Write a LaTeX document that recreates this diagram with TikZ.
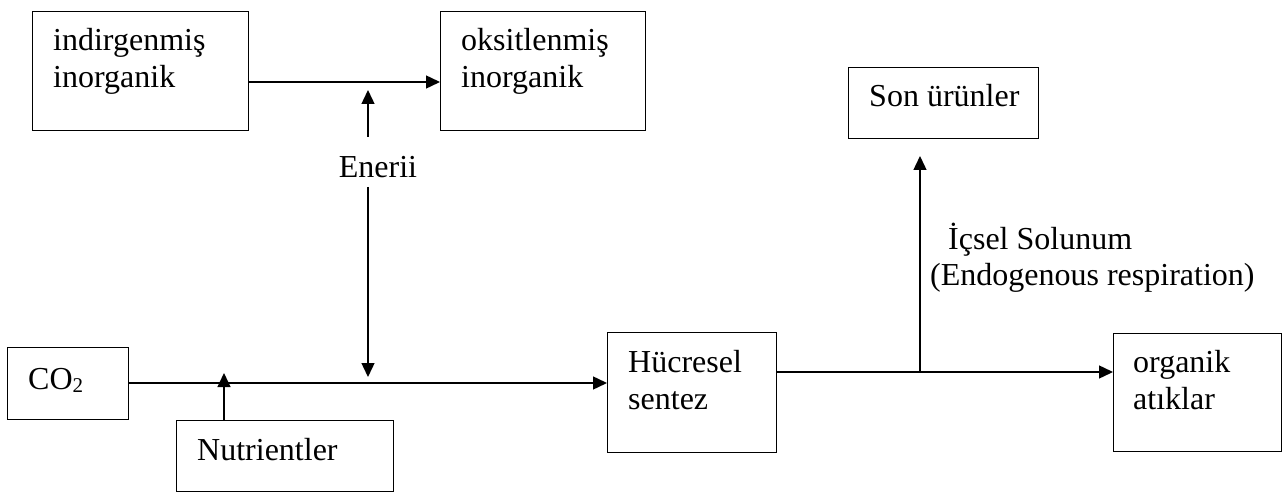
\documentclass[tikz,border=0pt]{standalone}
\usepackage{fontspec}
\setmainfont{Liberation Serif}
\usetikzlibrary{arrows.meta}
\begin{document}
\begin{tikzpicture}[x=1pt,y=-1pt,
  box/.style={draw, line width=1.4pt, inner sep=0pt, anchor=north west},
  txt/.style={inner sep=0pt, anchor=base west, font=\fontsize{32}{37}\selectfont},
  arr/.style={line width=1.4pt, -{Triangle[length=14pt,width=13pt]}},
  ln/.style={line width=1.4pt}]
\useasboundingbox (0,0) rectangle (1283,492);
% boxes
\node[box, minimum width=216pt, minimum height=119pt] (b1) at (32,11) {};
\node[box, minimum width=205pt, minimum height=119pt] (b2) at (440,11) {};
\node[box, minimum width=121pt, minimum height=72pt] (co) at (7,347) {};
\node[box, minimum width=217pt, minimum height=71pt] (nu) at (176,420) {};
\node[box, minimum width=169pt, minimum height=120pt] (hs) at (607,332) {};
\node[box, minimum width=168pt, minimum height=118pt] (oa) at (1113,333) {};
\node[box, minimum width=190pt, minimum height=71pt] (so) at (848,67) {};
% texts
\node[txt] (t1a) at (53,51) {indirgenmiş};
\node[txt] (t1b) at (53,88) {inorganik};
\node[txt] (t2a) at (461,51) {oksitlenmiş};
\node[txt] (t2b) at (461,88) {inorganik};
\node[txt] (tco) at (28,389) {CO\raisebox{-0.12em}{\fontsize{21}{21}\selectfont 2}};
\node[txt] (tnu) at (197,460) {Nutrientler};
\node[txt] (tha) at (628,372) {Hücresel};
\node[txt] (thb) at (628,409) {sentez};
\node[txt] (toa) at (1133,372) {organik};
\node[txt] (tob) at (1133,409) {atıklar};
\node[txt] (tso) at (869,107) {Son ürünler};
\node[txt, anchor=base] (en) at (378,178) {Enerii};
\node[txt] (ic1) at (948,249) {İçsel Solunum};
\node[txt] (ic2) at (930,285) {(Endogenous respiration)};
% helper coordinates
\coordinate (ytop) at (0,82);
\coordinate (ybotL) at (0,383);
\coordinate (ybotR) at (0,372);
\coordinate (enT) at (368,137);
\coordinate (enTip) at (368,90);
\coordinate (enB) at (368,187);
\coordinate (enTip2) at (368,377);
\coordinate (nuTip) at (224,373);
\coordinate (jn) at (920,372);
\coordinate (jnTip) at (920,156);
% connectors
\draw[arr] (b1.east |- ytop) -- (b2.west |- ytop);
\draw[arr] (enT) -- (enTip);
\draw[arr] (enB) -- (enTip2);
\draw[arr] (co.east |- ybotL) -- (hs.west |- ybotL);
\draw[arr] (nu.north -| nuTip) -- (nuTip);
\draw[arr] (hs.east |- ybotR) -- (oa.west |- ybotR);
\draw[arr] (jn) -- (jnTip);
\end{tikzpicture}
\end{document}
